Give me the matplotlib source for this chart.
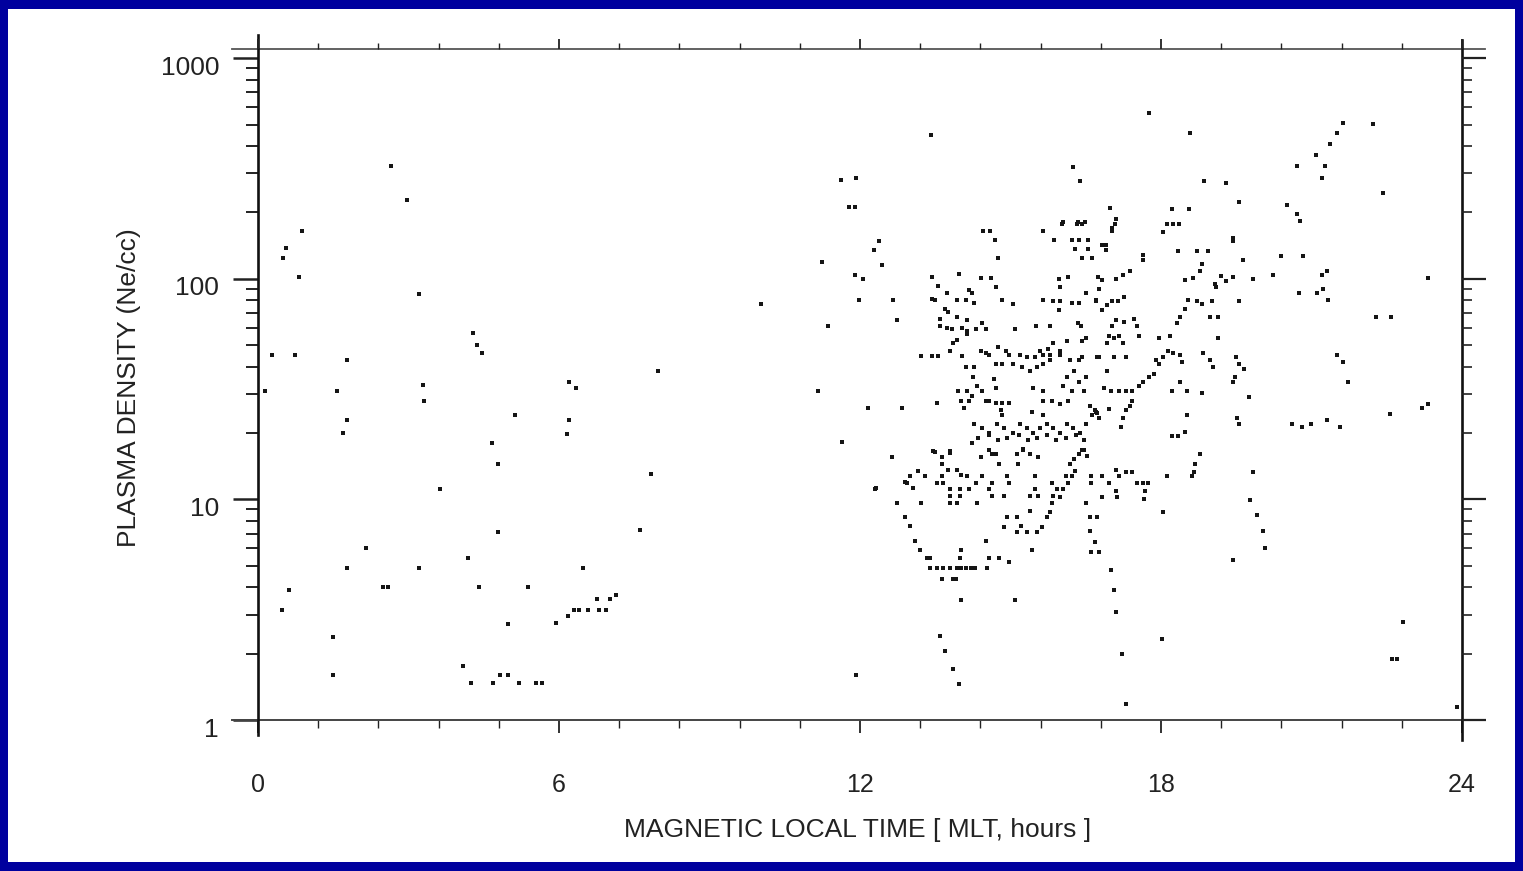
import numpy as np
import matplotlib
matplotlib.use("Agg")
import matplotlib.pyplot as plt
import matplotlib.ticker as ticker
from matplotlib.patches import Rectangle
from matplotlib.transforms import ScaledTranslation

plt.rcParams['font.family'] = ['Liberation Sans', 'DejaVu Sans']

# (MLT hours, plasma density Ne/cc)
pts_night = [
    (0.14, 31), (0.28, 45), (0.74, 45), (1.77, 43), (1.57, 31), (3.29, 33), (3.31, 28),
    (1.77, 23), (1.69, 20), (4.28, 57), (4.37, 50), (4.46, 46), (4.66, 18), (4.78, 14.5),
    (3.63, 11.2), (2.15, 6.0), (4.18, 5.4), (1.77, 4.9), (3.21, 4.9), (0.62, 3.9),
    (2.5, 4.0), (2.6, 4.0), (4.4, 4.0), (4.78, 7.1), (0.88, 164), (0.56, 138), (0.5, 124),
    (0.82, 102), (2.65, 323), (2.97, 227), (3.21, 85), (0.48, 3.16), (1.49, 2.39),
    (1.49, 1.6), (5.38, 4.0), (4.98, 2.73), (4.08, 1.75), (4.24, 1.47), (4.69, 1.47),
    (4.82, 1.6), (4.99, 1.6), (5.2, 1.47), (5.54, 1.47), (5.66, 1.47), (5.94, 2.76),
    (6.18, 2.97), (6.3, 3.16), (6.4, 3.16), (6.57, 3.16), (6.8, 3.16), (6.93, 3.16),
    (6.75, 3.55), (7.01, 3.55), (7.13, 3.7), (5.12, 24), (6.47, 4.9), (6.2, 34),
    (6.34, 32), (6.2, 23), (6.16, 19.8), (7.61, 7.25), (7.83, 13.1), (7.97, 38), (10.02, 77),
]

pts_noon = [
    (11.63, 279), (11.93, 285), (11.78, 211), (11.9, 211), (12.37, 148), (12.27, 135),
    (11.24, 119), (12.43, 116), (11.91, 104), (12.05, 100), (11.99, 80), (12.65, 80),
    (11.37, 61), (12.73, 65), (11.16, 31), (11.65, 18.2), (11.93, 1.6), (12.15, 26),
    (12.29, 11.1), (12.83, 26), (13.41, 450), (12.63, 15.5), (12.31, 11.3), (12.73, 9.6),
]

pts_afternoon = [
    (14.45, 164), (14.6, 164), (15.64, 164), (16.04, 181), (16.34, 181), (16.48, 181),
    (14.7, 150), (15.86, 150), (16.22, 150), (16.37, 150), (16.55, 150), (16.28, 136),
    (16.55, 136), (14.76, 124), (16.43, 124), (16.63, 124), (13.43, 102), (13.98, 105),
    (14.42, 101), (14.62, 101), (14.72, 92), (16.14, 102), (15.96, 100), (15.98, 92),
    (13.55, 93), (13.73, 86), (14.18, 89), (14.24, 86), (13.43, 81), (13.5, 80),
    (13.93, 80), (14.12, 80), (14.28, 78), (14.84, 80), (15.04, 77), (15.64, 80),
    (15.84, 79), (15.98, 79), (16.22, 78), (16.37, 78), (16.71, 79), (15.96, 72),
    (13.69, 73), (13.75, 71), (13.59, 66), (13.93, 67), (14.14, 65), (14.44, 63),
    (13.59, 61), (13.73, 60), (13.83, 59), (14.04, 60), (14.14, 58), (14.32, 59),
    (14.52, 59), (15.09, 59), (15.5, 61), (15.78, 61), (16.35, 63), (16.41, 61),
    (13.93, 53), (13.85, 51), (13.79, 47), (14.14, 56), (13.21, 44.6), (13.43, 44.6),
    (13.55, 44.6), (14.04, 44.6), (14.42, 47), (14.52, 46), (14.58, 45), (14.72, 41),
    (14.84, 41), (14.76, 49), (14.92, 47), (14.98, 45), (15.18, 45), (15.32, 44),
    (15.48, 44), (15.64, 45), (15.78, 45), (15.58, 47), (15.74, 48), (15.84, 51),
    (15.98, 47), (16.12, 52), (15.04, 41), (15.22, 40), (15.38, 38), (15.52, 40),
    (15.64, 41), (15.78, 43), (15.98, 45), (16.18, 43), (16.37, 43), (16.43, 44),
    (16.73, 44), (16.43, 52), (16.51, 54), (16.26, 38), (16.12, 36), (16.51, 36),
    (16.37, 34), (16.22, 31), (16.04, 32.5), (16.47, 31), (14.12, 40), (14.28, 40),
    (14.26, 36), (14.68, 35), (14.72, 32), (15.44, 32), (15.64, 31), (13.95, 31),
    (14.14, 31), (14.24, 29.5), (14.34, 32.6), (14.44, 31), (14.52, 28), (14.58, 28),
    (14.72, 27.3), (14.84, 27.3), (14.98, 27.3), (14.02, 28), (14.18, 28), (15.64, 28),
    (15.82, 28), (15.98, 27), (16.14, 28), (14.82, 25.4), (14.84, 24), (15.42, 25),
    (15.64, 24), (13.53, 27.3), (14.08, 26), (16.58, 26.5), (16.71, 25), (16.63, 24),
    # the dense band near 20
    (14.28, 22), (14.44, 21), (14.58, 20), (14.74, 22), (14.88, 21), (15.04, 20),
    (15.18, 22), (15.32, 21), (15.44, 20), (15.58, 21), (15.72, 22), (15.84, 21),
    (15.98, 20), (16.12, 22), (16.24, 21), (16.38, 20), (16.51, 22),
    (14.36, 19), (14.58, 19.5), (14.76, 18.5), (14.94, 19), (15.16, 19.5), (15.34, 18.5),
    (15.52, 19), (15.72, 19.5), (15.9, 18.5), (16.1, 19), (16.3, 19.5), (16.46, 18.5),
    (14.24, 18), (14.58, 16.8), (15.24, 16.8), (16.43, 16.8), (13.45, 16.5), (13.79, 16.5),
    (13.49, 16.4), (13.63, 15.6), (13.79, 16.3), (13.63, 14.4), (14.42, 15.5),
    (14.64, 16.1), (14.72, 16.0), (14.78, 14.4), (15.14, 14.4), (15.12, 16), (15.24, 17),
    (15.38, 16.1), (15.54, 15.5), (16.18, 14.4), (16.26, 15.3), (16.37, 16), (16.47, 16.8),
    (16.53, 15.8), (16.28, 13.5), (16.22, 12.8), (13.15, 13.5), (12.99, 12.8),
    (13.29, 12.8), (13.63, 12.8), (13.75, 13.6), (13.93, 13.6), (14.02, 12.9),
    (14.14, 12.8), (14.32, 11.9), (14.44, 12.8), (12.93, 11.9), (13.05, 11.3),
    (12.89, 12.0), (13.53, 11.9), (13.65, 11.9), (13.79, 11.2), (13.99, 11.2),
    (14.18, 11.1), (14.58, 11.1), (14.64, 11.9), (14.94, 12.8), (14.98, 11.9),
    (15.48, 12.8), (15.48, 11.1), (15.82, 11.9), (15.92, 11.1), (16.04, 11.1),
    (16.14, 11.9), (16.1, 12.8), (16.61, 12.8), (16.61, 11.9), (13.79, 10.4),
    (13.99, 10.4), (14.64, 10.4), (14.88, 10.4), (15.38, 10.4), (15.54, 10.4),
    (15.84, 10.4), (15.98, 10.2), (13.21, 9.6), (13.79, 9.6), (13.93, 9.6), (14.34, 9.6),
    (15.82, 9.6), (16.5, 9.6), (15.38, 8.9), (15.72, 8.3), (15.78, 8.8), (12.89, 8.3),
    (12.99, 7.6), (14.94, 8.3), (15.12, 8.3), (15.2, 7.6), (14.88, 7.5), (15.62, 7.5),
    (15.12, 7.1), (15.32, 7.1), (15.52, 7.1), (13.09, 6.5), (14.52, 6.5), (13.19, 5.9),
    (14.02, 5.9), (15.42, 5.9), (13.33, 5.4), (13.39, 5.4), (13.99, 5.4), (14.58, 5.4),
    (14.78, 5.4), (14.98, 5.2), (13.39, 4.9), (13.53, 4.9), (13.65, 4.9), (13.79, 4.9),
    (13.93, 4.9), (14.02, 4.9), (14.12, 4.9), (14.22, 4.9), (14.3, 4.9), (14.54, 4.9),
    (13.63, 4.37), (13.85, 4.37), (13.91, 4.37), (14.02, 3.5), (15.08, 3.5),
    (13.59, 2.4), (13.69, 2.05), (13.85, 1.71), (13.97, 1.45),
]

pts_dusk = [
    (16.24, 320), (16.38, 276), (18.85, 276), (19.3, 272), (19.56, 222), (16.99, 209),
    (18.21, 207), (18.55, 207), (16.02, 178), (16.32, 178), (16.43, 178), (17.09, 178),
    (18.11, 178), (18.23, 178), (18.35, 178), (17.03, 164), (18.03, 163), (19.43, 148),
    (16.9, 135), (18.33, 134), (18.71, 134), (18.93, 134), (17.64, 122), (19.63, 121),
    (18.81, 117), (18.77, 108), (18.63, 101), (17.38, 108), (17.24, 104), (17.11, 100),
    (16.75, 102), (16.83, 99), (18.47, 99), (19.2, 103), (19.3, 98), (19.43, 102),
    (19.09, 92), (16.77, 90), (16.51, 86), (16.71, 80), (17.27, 83), (17.03, 79),
    (17.15, 79), (16.92, 76), (16.82, 72), (18.53, 80), (18.71, 79), (18.81, 77),
    (19.01, 79), (18.47, 73), (18.37, 67), (18.31, 63), (18.97, 67), (19.13, 67),
    (19.56, 79), (17.11, 65), (17.27, 64), (17.47, 66), (17.53, 61), (17.03, 61),
    (16.97, 55), (17.07, 54), (17.17, 55), (16.93, 51), (17.25, 51), (17.57, 55),
    (17.97, 54), (18.17, 55), (19.13, 54), (18.13, 47), (18.23, 46), (18.37, 45),
    (18.41, 42), (18.83, 46), (18.97, 43), (19.03, 40), (19.5, 44), (19.56, 41),
    (19.66, 39), (17.91, 43), (18.03, 44), (17.97, 41), (17.87, 37), (17.77, 36),
    (17.64, 34), (17.57, 32.6), (16.77, 44), (17.07, 44), (17.31, 44), (16.93, 38),
    (18.37, 34), (18.21, 31), (18.51, 31), (18.81, 30.5), (19.43, 34), (16.87, 32),
    (17.01, 31), (17.17, 31), (17.31, 31), (17.43, 31), (17.43, 28), (17.38, 26.5),
    (17.31, 25.5), (16.68, 25.5), (16.73, 24.6), (16.77, 23.5), (18.51, 24), (19.52, 23.5),
    (16.97, 25.7), (17.25, 23.5), (17.21, 21.2), (18.47, 20.2), (18.21, 19.4),
    (18.33, 19.4), (19.56, 22), (18.77, 16.0), (18.67, 14.4), (18.65, 13.3),
    (18.61, 12.7), (18.11, 12.7), (18.03, 8.8), (19.43, 5.3), (17.11, 13.6),
    (17.31, 13.3), (17.43, 13.3), (17.17, 12.8), (17.52, 11.9), (17.64, 11.9),
    (17.74, 11.9), (16.83, 12.8), (16.97, 11.9), (17.11, 10.9), (17.13, 10.3),
    (16.82, 10.3), (17.68, 10.9), (17.66, 10.0), (16.58, 8.3), (16.73, 8.3), (16.58, 7.2),
    (16.68, 6.4), (16.61, 5.8), (16.77, 5.8), (17.0, 4.8), (17.07, 3.9), (17.11, 3.1),
    (18.01, 2.34), (17.23, 2.0), (17.31, 1.18),
]

pts_evening = [
    (17.77, 565), (18.57, 459), (21.63, 510), (21.51, 459), (21.37, 410), (22.22, 505),
    (21.09, 365), (21.27, 326), (21.21, 285), (20.71, 326), (22.42, 244), (20.52, 215),
    (20.71, 196), (20.77, 182), (17.11, 186), (17.03, 170), (19.43, 153), (16.83, 142),
    (16.9, 142), (17.64, 128), (20.4, 127), (20.84, 127), (19.83, 100), (20.24, 104),
    (19.07, 95), (21.21, 104), (21.31, 108), (20.75, 86), (21.11, 86), (21.23, 90),
    (21.33, 80), (23.32, 101), (22.28, 67), (22.58, 67), (21.51, 45), (21.63, 42),
    (21.73, 34), (19.75, 29), (19.47, 36), (20.61, 22), (20.82, 21.2), (20.99, 22),
    (21.31, 23), (21.57, 21.2), (22.56, 24.4), (23.2, 26), (23.32, 27), (19.83, 13.3),
    (19.77, 9.9), (19.91, 8.5), (20.03, 7.2), (20.07, 6.0), (22.82, 2.79), (22.6, 1.9),
    (22.7, 1.9), (23.9, 1.14),
]

x_ticks = [0, 6, 12, 18, 24]
y_ticks = [1, 10, 100, 1000]
y_ticklabels = ['1', '10', '100', '1000']

W, H, DPI = 1523, 871, 100
fig = plt.figure(figsize=(W / DPI, H / DPI), dpi=DPI, facecolor='#00009E')
# white slide panel inside the blue frame
fig.add_artist(Rectangle((8 / W, 9 / H), 1507 / W, 853 / H, transform=fig.transFigure,
                         facecolor='white', edgecolor='none', zorder=0))

ax = fig.add_axes([258 / W, (H - 720) / H, (1462 - 258) / W, (720 - 49) / H])
ax.set_facecolor('none')

all_pts = pts_night + pts_noon + pts_afternoon + pts_dusk + pts_evening
mlt = [p[0] for p in all_pts]
dens = [p[1] for p in all_pts]
ax.scatter(mlt, dens, s=9, marker='s', c='#151515', linewidths=0, zorder=3)

ax.set_yscale('log')
ax.set_xlim(0, 24)
ax.set_ylim(1, 1100)

ink = '#222222'
for s in ax.spines.values():
    s.set_visible(False)

# axis lines overshoot the box a bit, like the original plot
ax.plot([-0.022, 1.019], [1, 1], transform=ax.transAxes, clip_on=False, color='#555555', lw=1.3)
ax.plot([-0.022, 1.019], [0, 0], transform=ax.transAxes, clip_on=False, color='#444444', lw=1.4)
ax.plot([0, 0], [-0.022, 1.021], transform=ax.transAxes, clip_on=False, color='#111111', lw=1.9)
ax.plot([1, 1], [-0.03, 1.013], transform=ax.transAxes, clip_on=False, color='#111111', lw=1.9)

ax.set_xticks(x_ticks)
ax.set_xticklabels([str(v) for v in x_ticks])
ax.xaxis.set_minor_locator(ticker.MultipleLocator(1.2))
ax.set_yticks(y_ticks)
ax.set_yticklabels(y_ticklabels)
ax.yaxis.set_minor_locator(ticker.LogLocator(base=10, subs=np.arange(2, 10), numticks=20))
ax.yaxis.set_minor_formatter(ticker.NullFormatter())

ax.tick_params(axis='x', which='major', direction='out', length=9, width=1.3, color=ink,
               labelsize=18, labelcolor=ink, pad=29)
ax.tick_params(axis='x', which='minor', direction='out', length=6, width=1.0, color=ink)
ax.tick_params(axis='y', which='major', direction='out', length=18, width=1.8, color=ink,
               labelsize=19, labelcolor=ink, pad=10)
ax.tick_params(axis='y', which='minor', direction='out', length=9, width=1.4, color=ink)

# y labels sit a little below their ticks in the scan
off = ScaledTranslation(0, -7 / DPI, fig.dpi_scale_trans)
for lab in ax.get_yticklabels():
    lab.set_transform(lab.get_transform() + off)

# right and top axes: ticks only
axr = ax.twinx()
axr.set_yscale('log')
axr.set_ylim(ax.get_ylim())
axr.set_yticks(y_ticks)
axr.yaxis.set_minor_locator(ticker.LogLocator(base=10, subs=np.arange(2, 10), numticks=20))
axr.tick_params(which='major', direction='out', length=17, width=1.6, color=ink, labelright=False)
axr.tick_params(which='minor', direction='out', length=7, width=1.2, color=ink)
axt = ax.twiny()
axt.set_xlim(ax.get_xlim())
axt.set_xticks(x_ticks)
axt.xaxis.set_minor_locator(ticker.MultipleLocator(1.2))
axt.tick_params(which='major', direction='out', length=7, width=1.3, color=ink, labeltop=False)
axt.tick_params(which='minor', direction='out', length=4, width=1.0, color=ink)
for a in (axr, axt):
    for s in a.spines.values():
        s.set_visible(False)

ax.set_xlabel('MAGNETIC LOCAL TIME [ MLT, hours ]', fontsize=19, color=ink)
ax.set_ylabel('PLASMA DENSITY (Ne/cc)', fontsize=19, color=ink)
ax.xaxis.set_label_coords(0.498, -0.146)
ax.yaxis.set_label_coords(-0.097, 0.496)

fig.savefig('out.png', dpi=DPI, facecolor=fig.get_facecolor())
